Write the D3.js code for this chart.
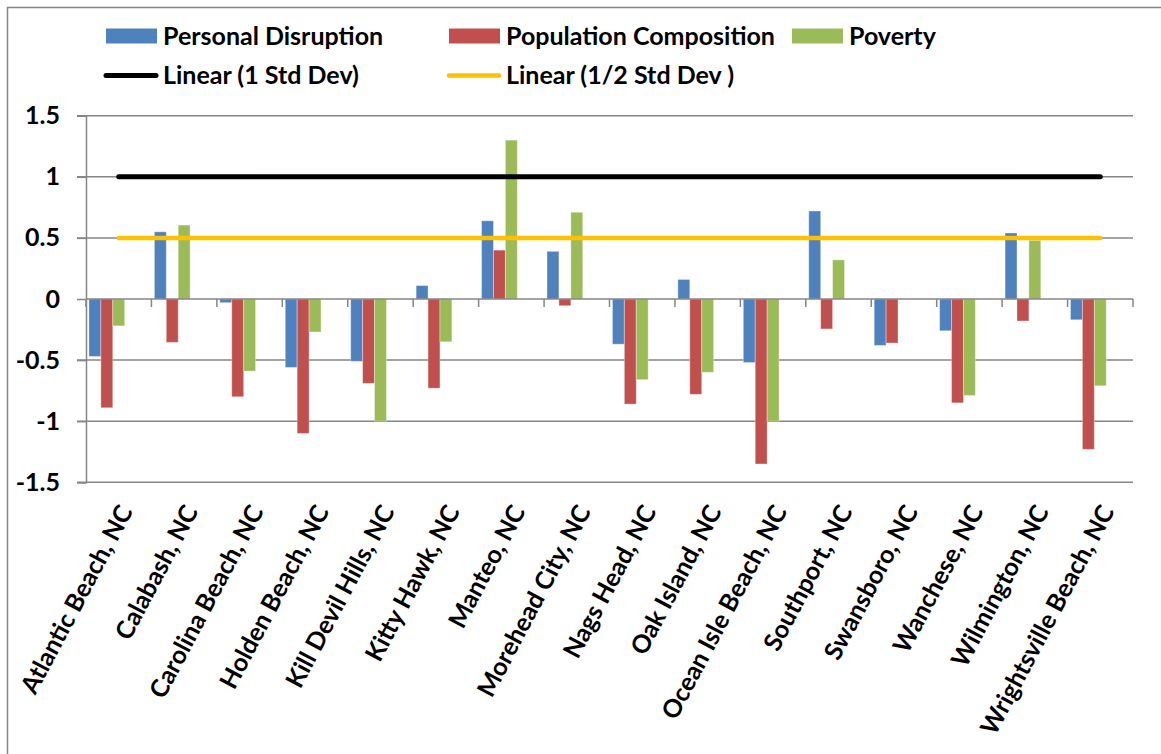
<!DOCTYPE html>
<html>
<head>
<meta charset="utf-8">
<script src="https://cdn.jsdelivr.net/npm/d3@7"></script>
<style>
  body { margin: 0; background: #fff; }
  text { font-family: Lato, "Open Sans", sans-serif; font-weight: bold; fill: #000; }
</style>
</head>
<body>
<div id="chart"></div>
<script>
const categories = [
  "Atlantic Beach, NC", "Calabash, NC", "Carolina Beach, NC", "Holden Beach, NC",
  "Kill Devil Hills, NC", "Kitty Hawk, NC", "Manteo, NC", "Morehead City, NC",
  "Nags Head, NC", "Oak Island, NC", "Ocean Isle Beach, NC", "Southport, NC",
  "Swansboro, NC", "Wanchese, NC", "Wilmington, NC", "Wrightsville Beach, NC"
]
const personalDisruption = [-0.47, 0.55, -0.03, -0.56, -0.51, 0.11, 0.64, 0.39,
  -0.37, 0.16, -0.52, 0.72, -0.38, -0.26, 0.54, -0.17]
const populationComposition = [-0.89, -0.355, -0.80, -1.10, -0.69, -0.73, 0.40, -0.055,
  -0.86, -0.78, -1.35, -0.245, -0.36, -0.85, -0.18, -1.23]
const poverty = [-0.22, 0.605, -0.59, -0.27, -1.0, -0.35, 1.30, 0.71,
  -0.66, -0.60, -1.0, 0.32, 0, -0.79, 0.48, -0.71]
// the two std dev series sit in the chart as empty bars, only their trendlines show
const oneStdDev = categories.map(() => 1)
const halfStdDev = categories.map(() => 0.5)
const yTicks = [1.5, 1, 0.5, 0, -0.5, -1, -1.5]

const seriesKeys = ["pd", "pc", "pov", "sd1", "sd2"]
const barSeries = [
  { key: "pd", name: "Personal Disruption", values: personalDisruption, color: "#4F81BD" },
  { key: "pc", name: "Population Composition", values: populationComposition, color: "#C0504D" },
  { key: "pov", name: "Poverty", values: poverty, color: "#9BBB59" }
]
const lineSeries = [
  { name: "Linear (1 Std Dev)", values: oneStdDev, color: "#000000", width: 5 },
  { name: "Linear (1/2 Std Dev )", values: halfStdDev, color: "#FFC000", width: 4.5 }
]

const WIDTH = 1161, HEIGHT = 754
const PLOT = { LEFT: 86, RIGHT: 1133, TOP: 115.7, BOTTOM: 482.3 }
const FONT_SIZE = 25

const svg = d3.select("#chart")
  .append("svg")
    .attr("width", WIDTH)
    .attr("height", HEIGHT)

svg.append("rect")
  .attr("x", 7.5).attr("y", 7.5)
  .attr("width", WIDTH).attr("height", HEIGHT)
  .attr("fill", "none")
  .attr("stroke", "#868686")
  .attr("stroke-width", 1.5)

const x0 = d3.scaleBand()
  .domain(categories)
  .range([PLOT.LEFT, PLOT.RIGHT])
  .paddingInner(0.09)
  .paddingOuter(0.045)

const x1 = d3.scaleBand()
  .domain(seriesKeys)
  .range([0, x0.bandwidth()])

const y = d3.scaleLinear()
  .domain([-1.5, 1.5])
  .range([PLOT.BOTTOM, PLOT.TOP])

// gridlines
svg.append("g")
  .selectAll("line")
  .data(yTicks.filter(d => d !== 0))
  .join("line")
    .attr("x1", PLOT.LEFT - 9)
    .attr("x2", PLOT.RIGHT)
    .attr("y1", d => y(d))
    .attr("y2", d => y(d))
    .attr("stroke", "#868686")
    .attr("stroke-width", 1.5)

// y axis
const yAxis = svg.append("g")
  .attr("transform", `translate(${PLOT.LEFT}, 0)`)
  .call(d3.axisLeft(y).tickValues(yTicks).tickSize(9).tickPadding(17)
    .tickFormat(d => String(d)))
yAxis.select(".domain").attr("stroke", "#868686").attr("stroke-width", 1.5)
yAxis.selectAll(".tick line").attr("stroke", "#868686").attr("stroke-width", 1.5)
yAxis.selectAll(".tick text")
  .attr("font-size", FONT_SIZE)
  .attr("font-family", "Lato, sans-serif")
  .attr("font-weight", "bold")
  .attr("fill", "#000")

// bars
const groups = svg.append("g")
  .selectAll("g")
  .data(barSeries)
  .join("g")
    .attr("fill", d => d.color)

groups.selectAll("rect")
  .data(s => s.values.map((v, i) => ({ key: s.key, cat: categories[i], v })))
  .join("rect")
    .attr("x", d => x0(d.cat) + x1(d.key))
    .attr("width", x1.bandwidth())
    .attr("y", d => y(Math.max(0, d.v)))
    .attr("height", d => Math.abs(y(d.v) - y(0)))
    .attr("stroke", "#ffffff")
    .attr("stroke-opacity", 0.35)
    .attr("stroke-width", 1)

// zero axis with category ticks
svg.append("line")
  .attr("x1", PLOT.LEFT).attr("x2", PLOT.RIGHT)
  .attr("y1", y(0)).attr("y2", y(0))
  .attr("stroke", "#868686")
  .attr("stroke-width", 1.5)

const boundaries = categories.map(c => x0(c) - x0.step() * x0.paddingInner() / 2)
boundaries.push(PLOT.RIGHT)
svg.append("g")
  .selectAll("line")
  .data(boundaries)
  .join("line")
    .attr("x1", d => d).attr("x2", d => d)
    .attr("y1", y(0)).attr("y2", y(0) + 8)
    .attr("stroke", "#868686")
    .attr("stroke-width", 1.5)

// trendlines
const line = d3.line()
  .x((d, i) => x0(categories[i]) + x0.bandwidth() / 2)
  .y(d => y(d))

svg.append("g")
  .selectAll("path")
  .data(lineSeries)
  .join("path")
    .attr("d", d => line(d.values))
    .attr("fill", "none")
    .attr("stroke", d => d.color)
    .attr("stroke-width", d => d.width)
    .attr("stroke-linecap", "round")

// category labels
svg.append("g")
  .selectAll("text")
  .data(categories)
  .join("text")
    .attr("transform", d => `translate(${x0(d) + x0.bandwidth() / 2 + 7}, 507) rotate(-62)`)
    .attr("text-anchor", "end")
    .attr("dy", "0.35em")
    .attr("font-size", FONT_SIZE)
    .text(d => d)

// legend
const legendItems = [
  { type: "bar", s: barSeries[0], x: 106, y: 36 },
  { type: "bar", s: barSeries[1], x: 449, y: 36 },
  { type: "bar", s: barSeries[2], x: 792, y: 36 },
  { type: "line", s: lineSeries[0], x: 106, y: 75.5 },
  { type: "line", s: lineSeries[1], x: 449, y: 75.5 }
]
const legend = svg.append("g")
  .selectAll("g")
  .data(legendItems)
  .join("g")
    .attr("transform", d => `translate(${d.x}, ${d.y})`)

legend.filter(d => d.type === "bar")
  .append("rect")
    .attr("x", 0).attr("y", -7.5)
    .attr("width", 51).attr("height", 15)
    .attr("fill", d => d.s.color)

legend.filter(d => d.type === "line")
  .append("line")
    .attr("x1", 0).attr("x2", 50)
    .attr("y1", 0).attr("y2", 0)
    .attr("stroke", d => d.s.color)
    .attr("stroke-width", d => d.s.width)
    .attr("stroke-linecap", "round")

legend.append("text")
  .attr("x", 57)
  .attr("dy", "0.35em")
  .attr("font-size", FONT_SIZE)
  .text(d => d.s.name)
</script>
</body>
</html>
